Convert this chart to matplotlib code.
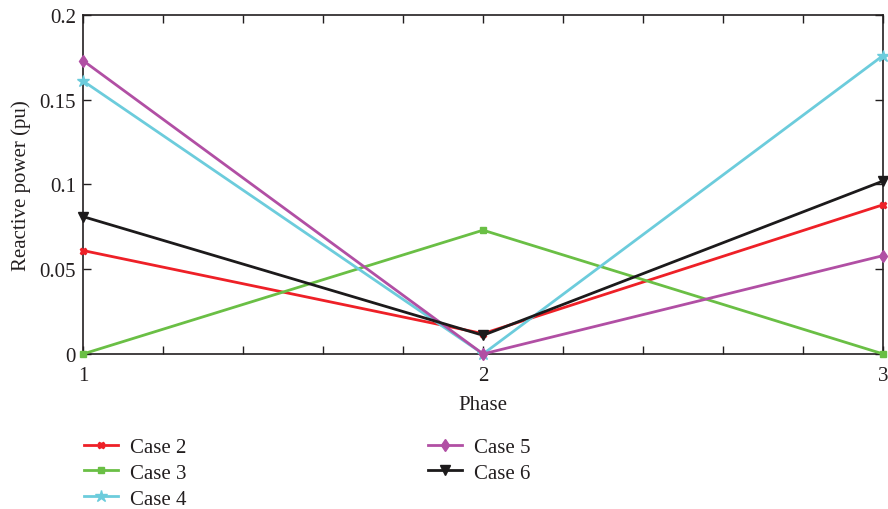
import matplotlib
matplotlib.use("Agg")
import matplotlib.pyplot as plt
import numpy as np

phase = [1, 2, 3]
case2 = [0.061, 0.012, 0.088]
case3 = [0.0, 0.073, 0.0]
case4 = [0.161, 0.0, 0.176]
case5 = [0.173, 0.0, 0.058]
case6 = [0.081, 0.011, 0.102]
labels = ["Case 2", "Case 3", "Case 4", "Case 5", "Case 6"]

plt.rcParams['font.family'] = ['Liberation Serif', 'DejaVu Serif']

fig = plt.figure(figsize=(8.88, 5.10), dpi=100)
ax = fig.add_axes([0.0935, 0.304, 0.901, 0.665])

series = [case2, case3, case4, case5, case6]
colors = ['#ee2027', '#6abf45', '#6cccdc', '#b14fa4', '#1c1a1b']
markers = ['X', 's', '*', 'd', 'v']
msizes = [5, 5, 9, 6, 7]
for s, c, m, ms, lab in zip(series, colors, markers, msizes, labels):
    ax.plot(phase, s, color=c, marker=m, markersize=ms, lw=2.0, label=lab,
            clip_on=False, zorder=3)

ax.set_xlim(1, 3)
ax.set_ylim(0, 0.2)
ax.set_xticks(np.arange(1, 3.01, 0.2))
ax.set_xticklabels(['1', '', '', '', '', '2', '', '', '', '', '3'])
ax.set_yticks([0, 0.05, 0.1, 0.15, 0.2])
ax.set_yticklabels(['0', '0.05', '0.1', '0.15', '0.2'])
ax.tick_params(direction='in', top=True, right=True, labelsize=15, length=6,
               width=1, colors='#231f20', pad=5)
ax.tick_params(axis='x', pad=9)
for sp in ax.spines.values():
    sp.set_linewidth(1.2)
    sp.set_color('#231f20')
ax.set_xlabel('Phase', fontsize=15, color='#231f20', labelpad=7)
ax.set_ylabel('Reactive power (pu)', fontsize=15, color='#231f20', labelpad=6)

h, l = ax.get_legend_handles_labels()
fig.legend(h, l, ncol=2, loc='upper left', bbox_to_anchor=(0.085, 0.157),
           frameon=False, fontsize=15, handlelength=1.65, handletextpad=0.55,
           columnspacing=11.6, labelspacing=0.3, borderaxespad=0,
           labelcolor='#231f20')

fig.savefig('out.png', dpi=100)
